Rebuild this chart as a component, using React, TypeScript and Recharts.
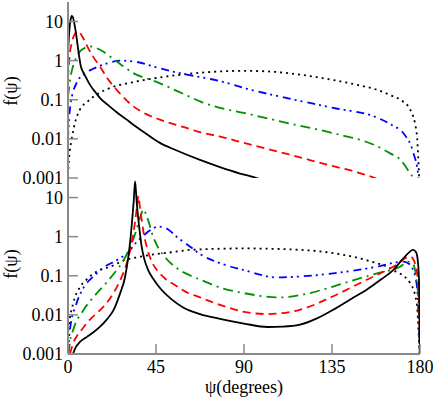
import React from 'react';
import { LineChart, Line, XAxis, YAxis } from 'recharts';

// x: ψ in degrees, y: f(ψ)
const X_TICKS = [0, 45, 90, 135, 180];
const Y_TICKS = [0.001, 0.01, 0.1, 1, 10];
const Y_DOMAIN: [number, number] = [0.001, 31.6];

const TOP_BLACK = [[0,1.55],[0.7,6.1],[1.3,11],[2,14],[2.6,12.5],[3.2,9.1],[4.1,5],[5,2.3],[5.8,1.2],[6.6,0.71],[7.8,0.5],[9.2,0.37],[11.5,0.23],[14.3,0.15],[16.4,0.11],[21.1,0.069],[24.9,0.048],[29.7,0.032],[33.4,0.023],[40,0.0135],[47,0.0079],[55,0.0052],[67.5,0.0029],[77.7,0.0019],[88,0.0013],[96.5,0.001],[105,0.0007]];
const TOP_RED = [[0,0.36],[0.8,1.3],[1.9,2.8],[3.5,4.8],[5.1,5.6],[6.8,4.6],[8.5,3.2],[10.5,2.0],[12.9,1.25],[16.4,0.7],[20,0.36],[24.9,0.18],[33.4,0.068],[40,0.043],[47,0.031],[60.6,0.019],[67.5,0.0148],[77.7,0.0115],[90,0.0079],[113,0.004],[135.6,0.002],[148,0.0014],[157,0.001],[162,0.0008]];
const TOP_GREEN = [[0,0.12],[1.4,0.4],[3.6,1.0],[7,1.9],[11.5,2.3],[16.4,1.9],[24.9,0.95],[33.4,0.48],[45,0.29],[60.6,0.13],[67.5,0.091],[77.7,0.062],[90,0.046],[113,0.025],[135.6,0.014],[158,0.0065],[165,0.0042],[169.8,0.003],[175,0.0013],[176.5,0.001],[177.5,0.0007]];
const TOP_BLUE = [[0,0.0098],[0.5,0.03],[1.2,0.07],[2,0.12],[4.4,0.27],[8,0.45],[12.9,0.62],[20,0.85],[27,1.0],[35,0.93],[45,0.68],[60.6,0.44],[67.5,0.38],[77.7,0.3],[90,0.2],[112,0.11],[135.6,0.062],[158,0.035],[166,0.022],[171.5,0.014],[176.6,0.0044],[179,0.0013],[179.6,0.0007]];
const TOP_DOTTED = [[0,0.0012],[0.5,0.003],[1.9,0.01],[3.5,0.025],[6.1,0.056],[10,0.09],[15,0.14],[21.5,0.2],[33,0.28],[45,0.36],[60,0.45],[77.7,0.53],[90,0.55],[105,0.52],[120,0.43],[135.6,0.32],[148,0.24],[158,0.18],[165,0.13],[170,0.1],[175,0.056],[178.3,0.014],[179.3,0.002],[179.8,0.0005]];

const BOT_BLACK = [[2.5,0.001],[4,0.0015],[6,0.002],[9.5,0.0027],[13,0.0036],[16.4,0.005],[20,0.0078],[23.2,0.013],[26.6,0.035],[29.1,0.089],[30.8,0.29],[32,0.95],[32.8,2.6],[33.6,8],[34.3,26],[35.1,8],[35.9,3.0],[36.8,1.2],[37.7,0.55],[39,0.27],[41,0.14],[43.5,0.085],[46.2,0.055],[53,0.025],[58.9,0.0155],[67.5,0.0105],[77.7,0.0079],[90,0.006],[102,0.0049],[110,0.005],[118.6,0.0056],[127,0.008],[135.6,0.0135],[145,0.026],[152.7,0.044],[160,0.08],[166.3,0.14],[172.3,0.31],[176.5,0.46],[178,0.4],[179,0.21],[179.6,0.05],[180,0.0005]];
const BOT_RED = [[1,0.001],[2.5,0.0018],[4.4,0.0028],[7.5,0.0045],[11.2,0.0076],[15.5,0.012],[19.7,0.02],[23.5,0.038],[26.6,0.075],[30.5,0.25],[33,0.9],[34.3,2.4],[35.3,6],[36,11],[36.8,5.5],[37.7,2.6],[38.5,1.4],[40.5,0.5],[43,0.22],[46,0.13],[49.6,0.085],[55.4,0.055],[59.8,0.04],[67.5,0.028],[77.7,0.018],[90,0.012],[101.6,0.0105],[118.6,0.0135],[135.6,0.03],[152.7,0.079],[166.3,0.17],[175,0.31],[178,0.17],[179.5,0.02],[180,0.0005]];
const BOT_GREEN = [[0.3,0.001],[1,0.002],[2.7,0.0042],[7.8,0.013],[12,0.025],[16.4,0.044],[20,0.07],[24.9,0.14],[28,0.23],[30,0.35],[32.5,0.65],[35,1.5],[36.8,3.0],[38.7,5.0],[40,3.6],[41.5,2.2],[43,1.2],[45.5,0.6],[49.6,0.3],[55,0.165],[58.1,0.13],[64,0.095],[67.5,0.08],[77.7,0.05],[90,0.036],[108.4,0.028],[120,0.033],[135.6,0.053],[147,0.08],[158,0.115],[169.8,0.17],[174,0.23],[176.5,0.2],[178,0.095],[179.3,0.02],[180,0.0005]];
const BOT_BLUE = [[0,0.001],[0.4,0.002],[1,0.0042],[4.4,0.02],[8,0.05],[12.9,0.095],[18,0.16],[24.9,0.25],[30.8,0.4],[35,0.72],[38.5,1.05],[42,1.45],[46.2,1.8],[49.5,1.7],[53,1.3],[56,0.95],[60.6,0.65],[63.2,0.52],[67.5,0.36],[77.7,0.21],[90,0.14],[106.7,0.091],[120,0.097],[135.6,0.115],[158,0.17],[171.5,0.23],[174.5,0.2],[176.5,0.14],[178.3,0.06],[179,0.02],[179.6,0.003],[180,0.0005]];
const BOT_DOTTED = [[0,0.002],[0.5,0.005],[2.7,0.02],[6,0.05],[9.5,0.08],[15,0.13],[21.5,0.17],[30,0.26],[36,0.3],[45,0.36],[49.6,0.38],[63.2,0.46],[90,0.5],[118.6,0.46],[135.6,0.38],[152.7,0.25],[166.3,0.14],[175,0.065],[178.3,0.02],[179.5,0.002],[180,0.0005]];

const toPts = (arr: number[][]) => arr.map(([x, y]) => ({ x, y }));

const FONT = "'Liberation Serif', 'Times New Roman', Times, 'DejaVu Serif', serif";
const GRAY = '#8a8a8a';
const TICK_STYLE = { fill: '#000', fontSize: 18, fontFamily: FONT };

const SERIES = [
  { key: 'dotted', color: '#000', dash: '2 4', top: TOP_DOTTED, bot: BOT_DOTTED },
  { key: 'blue', color: '#0000ff', dash: '8 4 2 4 2 5', top: TOP_BLUE, bot: BOT_BLUE },
  { key: 'green', color: '#009000', dash: '10 5 2 5', top: TOP_GREEN, bot: BOT_GREEN },
  { key: 'red', color: '#ff0000', dash: '8 5', top: TOP_RED, bot: BOT_RED },
  { key: 'black', color: '#000', dash: undefined, top: TOP_BLACK, bot: BOT_BLACK },
];

const yLabel = (cy: number) => () => (
  <text
    transform={`translate(17, ${cy}) rotate(-90)`}
    x={0}
    y={0}
    textAnchor="middle"
    fontSize={18}
    fill="#000"
    fontFamily={FONT}
  >
    f(ψ)
  </text>
);

function Panel({ which, height, marginTop, marginBottom, xHeight, showX, labelCy }: any) {
  return (
    <LineChart
      width={436}
      height={height}
      margin={{ top: marginTop, right: 16, bottom: marginBottom, left: 0 }}
    >
      <XAxis
        dataKey="x"
        type="number"
        domain={[0, 180]}
        ticks={X_TICKS}
        interval={0}
        allowDataOverflow
        height={xHeight}
        tickSize={-10}
        tickMargin={16}
        tickLine={{ stroke: GRAY, strokeWidth: 1.5 }}
        axisLine={{ stroke: GRAY, strokeWidth: 2 }}
        tick={TICK_STYLE}
        tickFormatter={showX ? (v: number) => String(v) : () => ''}
        label={
          showX
            ? { value: 'ψ(degrees)', position: 'insideBottom', offset: 4, fill: '#000', fontSize: 18, fontFamily: FONT }
            : undefined
        }
      />
      <XAxis
        xAxisId="top"
        orientation="top"
        type="number"
        domain={[0, 180]}
        ticks={X_TICKS}
        interval={0}
        allowDataOverflow
        height={0}
        tickSize={-10}
        tickLine={{ stroke: GRAY, strokeWidth: 1.5 }}
        axisLine={{ stroke: '#000', strokeWidth: 1.5 }}
        tickFormatter={() => ''}
      />
      <YAxis
        scale="log"
        type="number"
        domain={Y_DOMAIN}
        ticks={Y_TICKS}
        interval={0}
        allowDataOverflow
        width={68}
        tickSize={-10}
        tickMargin={15}
        tickLine={{ stroke: GRAY, strokeWidth: 1.5 }}
        axisLine={{ stroke: GRAY, strokeWidth: 2 }}
        tick={TICK_STYLE}
        tickFormatter={(v: number) => String(v)}
        label={{ content: yLabel(labelCy) }}
      />
      <YAxis
        yAxisId="right"
        orientation="right"
        scale="log"
        type="number"
        domain={Y_DOMAIN}
        ticks={Y_TICKS}
        interval={0}
        allowDataOverflow
        width={0}
        tickSize={-10}
        tickLine={{ stroke: GRAY, strokeWidth: 1.5 }}
        axisLine={{ stroke: '#000', strokeWidth: 1.5 }}
        tickFormatter={() => ''}
      />
      {SERIES.map((s) => (
        <Line
          key={s.key}
          data={toPts(which === 'top' ? s.top : s.bot)}
          dataKey="y"
          type="monotone"
          stroke={s.color}
          strokeWidth={1.8}
          strokeDasharray={s.dash}
          dot={false}
          activeDot={false}
          isAnimationActive={false}
        />
      ))}
    </LineChart>
  );
}

export default function App() {
  return (
    <div style={{ position: 'absolute', left: 0, top: 0, width: 436, height: 397, background: '#fff' }}>
      <div style={{ position: 'absolute', left: 0, top: 0 }}>
        <Panel which="top" height={200} marginTop={2} marginBottom={22} xHeight={0} showX={false} labelCy={91} />
      </div>
      <div style={{ position: 'absolute', left: 0, top: 170 }}>
        <Panel which="bot" height={227} marginTop={8} marginBottom={0} xHeight={43} showX={true} labelCy={94} />
      </div>
    </div>
  );
}
